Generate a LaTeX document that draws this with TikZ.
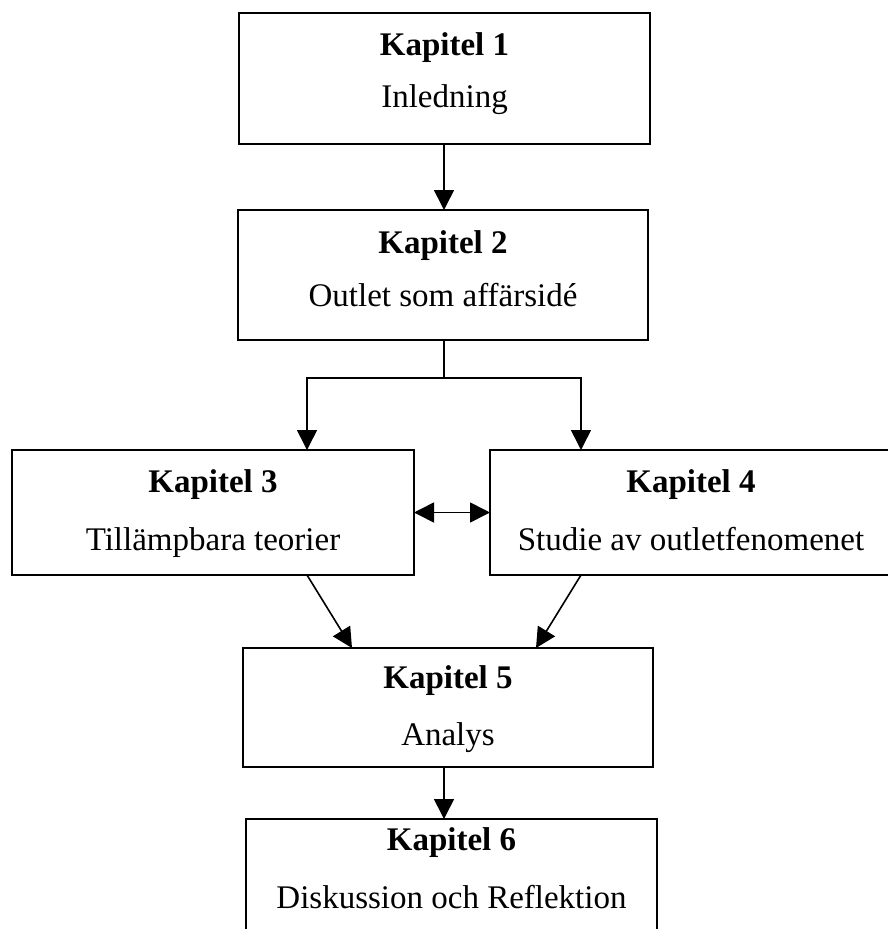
\documentclass[tikz,border=0pt]{standalone}
\usepackage{fontspec}
\setmainfont{Liberation Serif}
\usetikzlibrary{arrows.meta,calc}
\begin{document}
\begin{tikzpicture}[x=1pt,y=-1pt,
  box/.style={draw=black,line width=1.7pt,rectangle,inner sep=0pt,outer sep=0pt},
  ttl/.style={anchor=base,inner sep=0pt,font=\fontsize{33}{40}\selectfont\bfseries},
  sub/.style={anchor=base,inner sep=0pt,font=\fontsize{33}{40}\selectfont},
  arr/.style={line width=1.6pt,-{Triangle[length=20pt,width=20pt]}},
  darr/.style={line width=1.6pt,{Triangle[length=20pt,width=20pt]}-{Triangle[length=20pt,width=20pt]}},
  ln/.style={line width=1.6pt}]
\useasboundingbox (0,0) rectangle (888,929);
\clip (0,0) rectangle (888,929);
% boxes
\node[box,minimum width=411pt,minimum height=131pt] (b1) at (444.5,78.5) {};
\node[box,minimum width=410pt,minimum height=130pt] (b2) at (443,275) {};
\node[box,minimum width=402pt,minimum height=125pt] (b3) at (213,512.5) {};
\node[box,minimum width=402pt,minimum height=125pt] (b4) at (691,512.5) {};
\node[box,minimum width=410pt,minimum height=119pt] (b5) at (448,707.5) {};
\node[box,minimum width=411pt,minimum height=150pt] (b6) at (451.5,894) {};
% texts
\node[ttl] (t1) at ([yshift=-42pt]b1.north) {Kapitel 1};
\node[sub] (s1) at ([yshift=-94pt]b1.north) {Inledning};
\node[ttl] (t2) at ([yshift=-43pt]b2.north) {Kapitel 2};
\node[sub] (s2) at ([yshift=-96pt]b2.north) {Outlet som affärsidé};
\node[ttl] (t3) at ([yshift=-42pt]b3.north) {Kapitel 3};
\node[sub] (s3) at ([yshift=-100pt]b3.north) {Tillämpbara teorier};
\node[ttl] (t4) at ([yshift=-42pt]b4.north) {Kapitel 4};
\node[sub] (s4) at ([yshift=-100pt]b4.north) {Studie av outletfenomenet};
\node[ttl] (t5) at ([yshift=-40pt]b5.north) {Kapitel 5};
\node[sub] (s5) at ([yshift=-97pt]b5.north) {Analys};
\node[ttl] (t6) at ([yshift=-31pt]b6.north) {Kapitel 6};
\node[sub] (s6) at ([yshift=-89pt]b6.north) {Diskussion och Reflektion};
% connectors
\draw[arr] ([xshift=-0.5pt]b1.south) -- ([xshift=1pt]b2.north);
\coordinate (j) at ([yshift=-38pt]b2.south);
\draw[ln] ([xshift=1pt]b2.south) -- ([xshift=1pt]j);
\draw[arr] ([xshift=1pt]j) -| ([xshift=94pt]b3.north);
\draw[arr] ([xshift=1pt]j) -| ([xshift=-110pt]b4.north);
\draw[darr] (b3.east) -- (b4.west);
\draw[arr] ([xshift=94pt]b3.south) -- ([xshift=-96pt]b5.north);
\draw[arr] ([xshift=-110pt]b4.south) -- ([xshift=88pt]b5.north);
\draw[arr] ([xshift=-4pt]b5.south) -- ([xshift=-7.5pt]b6.north);
\end{tikzpicture}
\end{document}
